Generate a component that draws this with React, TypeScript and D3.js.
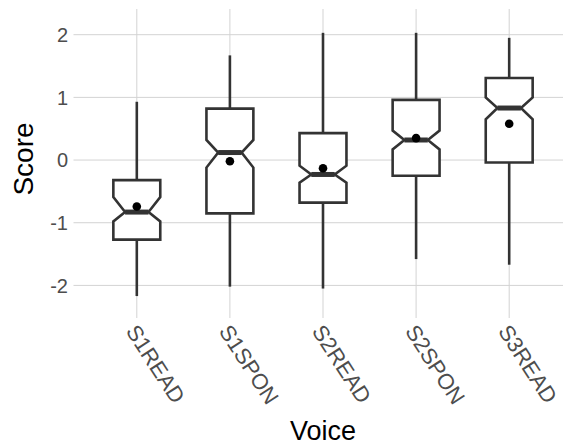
import React, { useEffect, useRef } from "react";
import * as d3 from "d3";

// values
const voices = ["S1READ", "S1SPON", "S2READ", "S2SPON", "S3READ"];
const whiskerLow = [-2.17, -2.02, -2.05, -1.58, -1.67];
const q1 = [-1.27, -0.85, -0.68, -0.25, -0.04];
const notchLow = [-0.98, -0.12, -0.36, 0.17, 0.65];
const medians = [-0.83, 0.12, -0.23, 0.32, 0.83];
const notchHigh = [-0.59, 0.32, -0.09, 0.47, 1.0];
const q3 = [-0.32, 0.82, 0.43, 0.96, 1.31];
const whiskerHigh = [0.93, 1.67, 2.03, 2.03, 1.95];
const means = [-0.74, -0.02, -0.13, 0.35, 0.58];
const yTicks = [-2, -1, 0, 1, 2];

const W = 563;
const H = 446;
const font = "'Liberation Sans', Arial, Helvetica, sans-serif";

const App = () => {
  const ref = useRef<SVGSVGElement>(null);

  useEffect(() => {
    const svg = d3.select(ref.current);
    svg.selectAll("*").remove();

    const left = 73.5;
    const right = 572.5;
    const top = 9;
    const bottom = 318;

    const x = d3.scalePoint<string>().domain(voices).range([left, right]).padding(0.68);
    const y = d3.scaleLinear().domain([-2.52, 2.41]).range([bottom, top]);
    const hw = x.step() * 0.252;

    const grid = svg.append("g").attr("stroke", "#d3d3d3").attr("stroke-width", 1);
    grid.selectAll("line.h")
      .data(yTicks)
      .join("line")
      .attr("class", "h")
      .attr("x1", left)
      .attr("x2", right)
      .attr("y1", d => y(d))
      .attr("y2", d => y(d));
    grid.selectAll("line.v")
      .data(voices)
      .join("line")
      .attr("class", "v")
      .attr("x1", d => x(d)!)
      .attr("x2", d => x(d)!)
      .attr("y1", top)
      .attr("y2", bottom);

    // y tick labels
    svg.append("g")
      .selectAll("text")
      .data(yTicks)
      .join("text")
      .attr("x", 68)
      .attr("y", d => y(d))
      .attr("dy", "0.36em")
      .attr("text-anchor", "end")
      .style("font-family", font)
      .style("font-size", "20px")
      .style("fill", "#4d4d4d")
      .text(d => d);

    // x tick labels, rotated
    svg.append("g")
      .selectAll("text")
      .data(voices)
      .join("text")
      .attr("transform", d => `translate(${x(d)! - 5},${327}) rotate(57)`)
      .attr("dy", "0.36em")
      .attr("text-anchor", "start")
      .style("font-family", font)
      .style("font-size", "22px")
      .style("fill", "#4d4d4d")
      .text(d => d);

    const boxes = svg.append("g")
      .selectAll("g")
      .data(voices.map((v, i) => ({ v, i })))
      .join("g");

    const stroke = "#333333";

    boxes.append("line")
      .attr("x1", d => x(d.v)!)
      .attr("x2", d => x(d.v)!)
      .attr("y1", d => y(whiskerHigh[d.i]))
      .attr("y2", d => y(q3[d.i]))
      .attr("stroke", stroke)
      .attr("stroke-width", 2.6);
    boxes.append("line")
      .attr("x1", d => x(d.v)!)
      .attr("x2", d => x(d.v)!)
      .attr("y1", d => y(q1[d.i]))
      .attr("y2", d => y(whiskerLow[d.i]))
      .attr("stroke", stroke)
      .attr("stroke-width", 2.6);

    boxes.append("path")
      .attr("d", d => {
        const cx = x(d.v)!;
        const i = d.i;
        const pts: [number, number][] = [
          [cx - hw, y(q3[i])],
          [cx + hw, y(q3[i])],
          [cx + hw, y(notchHigh[i])],
          [cx + hw / 2, y(medians[i])],
          [cx + hw, y(notchLow[i])],
          [cx + hw, y(q1[i])],
          [cx - hw, y(q1[i])],
          [cx - hw, y(notchLow[i])],
          [cx - hw / 2, y(medians[i])],
          [cx - hw, y(notchHigh[i])],
        ];
        return d3.line()(pts) + "Z";
      })
      .attr("fill", "white")
      .attr("stroke", stroke)
      .attr("stroke-width", 2.6)
      .attr("stroke-linejoin", "miter");

    boxes.append("line")
      .attr("x1", d => x(d.v)! - hw / 2)
      .attr("x2", d => x(d.v)! + hw / 2)
      .attr("y1", d => y(medians[d.i]))
      .attr("y2", d => y(medians[d.i]))
      .attr("stroke", stroke)
      .attr("stroke-width", 5);

    boxes.append("circle")
      .attr("cx", d => x(d.v)!)
      .attr("cy", d => y(means[d.i]))
      .attr("r", 4.3)
      .attr("fill", "black");

    // axis titles
    svg.append("text")
      .attr("x", (left + right) / 2)
      .attr("y", 440)
      .attr("text-anchor", "middle")
      .style("font-family", font)
      .style("font-size", "27px")
      .style("fill", "black")
      .text("Voice");

    svg.append("text")
      .attr("transform", "translate(33,159) rotate(-90)")
      .attr("text-anchor", "middle")
      .style("font-family", font)
      .style("font-size", "28px")
      .style("fill", "black")
      .text("Score");
  }, []);

  return (
    <div style={{ position: "absolute", left: 0, top: 0, width: W, height: H, overflow: "hidden", background: "white" }}>
      <svg ref={ref} width={W} height={H} style={{ display: "block" }} />
    </div>
  );
};

export default App;
